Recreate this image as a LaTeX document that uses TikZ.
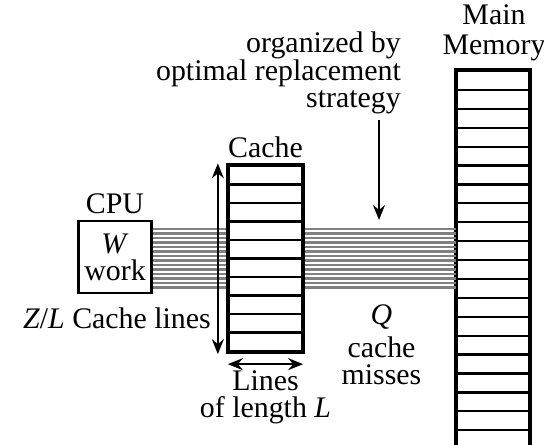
\documentclass[tikz,border=0pt]{standalone}
\usepackage{fontspec}
\setmainfont{Liberation Serif}
\usetikzlibrary{positioning,arrows.meta}

\begin{document}
\begin{tikzpicture}[
    cacherow/.style={draw,fill=white,line width=1.3pt,inner sep=0pt,minimum width=1.46cm,minimum height=0.37cm},
    memrow/.style={draw,fill=white,line width=1.3pt,inner sep=0pt,minimum width=1.44cm,minimum height=0.378cm},
    bus/.style={draw=black!50,line width=1.3pt},
    >={Stealth[length=3mm,width=2.4mm,inset=1mm]},
    font=\fontsize{17}{15.5}\selectfont
    ]

    \useasboundingbox (0,0) rectangle (10.88,8.88);
    \clip (0,0) rectangle (10.88,8.88);

    % cpu:
    \node (cpu) at (2.30,3.74) [draw,line width=1.3pt,minimum width=1.46cm,minimum height=1.44cm,align=center,inner sep=0pt] {\textit{W}\\work};
    \node (cpulabel) [above=0 of cpu] {CPU};

    % main memory:
    \foreach \y in {0,...,20}
      \node (m\y) at (9.86, 7.27 - \y * 0.378) [memrow] {};
    \draw [line width=1.8pt] (m0.south west) |- (m0.north east) -- (m20.south east);
    \draw [line width=1.8pt] (m0.north west) -- (m20.south west);
    \node (memlabel) [above=0.06 of m0,xshift=0.02cm,align=center] {Main\\[1.5pt]Memory};

    % bus lines:
    \foreach \y in {0,...,13}
      \draw [bus] (cpu.east |- 0,3.13 + \y * 0.09) -- (m0.west |- 0,3.13 + \y * 0.09);

    % cache:
    \foreach \y in {0,...,9}
      \node (c\y) at (5.31, 5.375 - \y * 0.37) [cacherow] {};
    \draw [line width=1.8pt] (c0.north west) rectangle (c9.south east);
    \node (cachelabel) [above=0.02 of c0] {Cache};

    % cache arrows:
    \draw [<->,line width=1.1pt] ([xshift=-2mm,yshift=0.3mm]c0.north west) -- ([xshift=-2mm,yshift=-0.4mm]c9.south west);
    \draw [<->,line width=1.1pt] ([yshift=-2.4mm]c9.south west) -- ([yshift=-2.4mm]c9.south east);

    % cache text:
    \node (zl) at (4.34,2.32) [anchor=base east] {\textit{Z}/\textit{L} Cache lines};
    \node (len) [below=0.24 of c9,align=center] {Lines\\of length \textit{L}};
    \node (misses) at (7.63,1.98) [align=center] {\textit{Q}\\[3pt]cache\\misses};

    % replacement strategy:
    \node (org) at (8.14,8.36) [anchor=north east,align=right] {organized by\\optimal replacement\\strategy};
    \coordinate (hit) at (7.58,4.48);
    \draw [->,line width=1.1pt] (org.south -| hit) -- (hit);

  \end{tikzpicture}
\end{document}
